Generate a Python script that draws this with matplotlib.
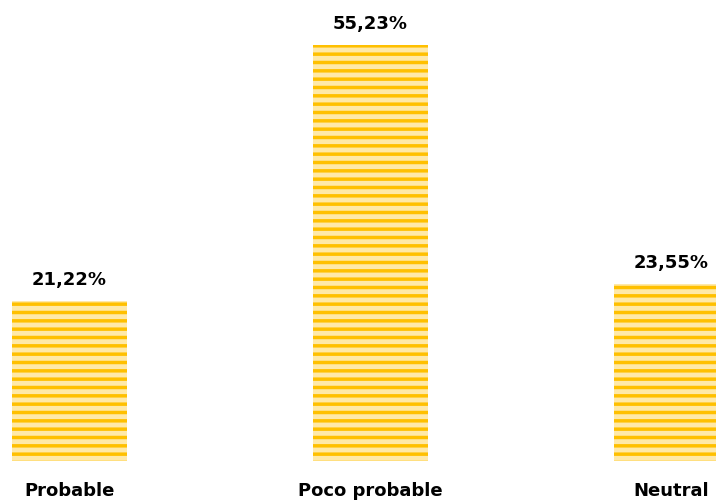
import matplotlib
matplotlib.use("Agg")
import matplotlib.pyplot as plt

categories = ["Probable", "Poco probable", "Neutral"]
values = [21.22, 55.23, 23.55]
labels = ["21,22%", "55,23%", "23,55%"]

plt.rcParams["font.family"] = ["DejaVu Sans"]
plt.rcParams["hatch.linewidth"] = 2.5

fig = plt.figure(figsize=(7.16, 5.04), dpi=100)
ax = fig.add_axes([0, 43 / 504, 1, 461 / 504])

x = range(len(categories))
bars = ax.bar(x, values, width=0.382, color="#FFE9A8", edgecolor="#FFC000",
              linewidth=0, hatch="--")

for b, lab in zip(bars, labels):
    ax.annotate(lab, (b.get_x() + b.get_width() / 2, b.get_height()),
                xytext=(0, 15), textcoords="offset points",
                ha="center", va="center", fontsize=13, fontweight="bold")

ax.set_xticks(list(x))
ax.set_xticklabels(categories, fontsize=13, fontweight="bold")
ax.tick_params(axis="x", length=0, pad=15)
ax.set_yticks([])
for s in ax.spines.values():
    s.set_visible(False)

ax.set_xlim(-69.5 / 301, (716 - 69.5) / 301)
ax.set_ylim(0, 461 / 7.53)

fig.savefig("out.png", dpi=100)
